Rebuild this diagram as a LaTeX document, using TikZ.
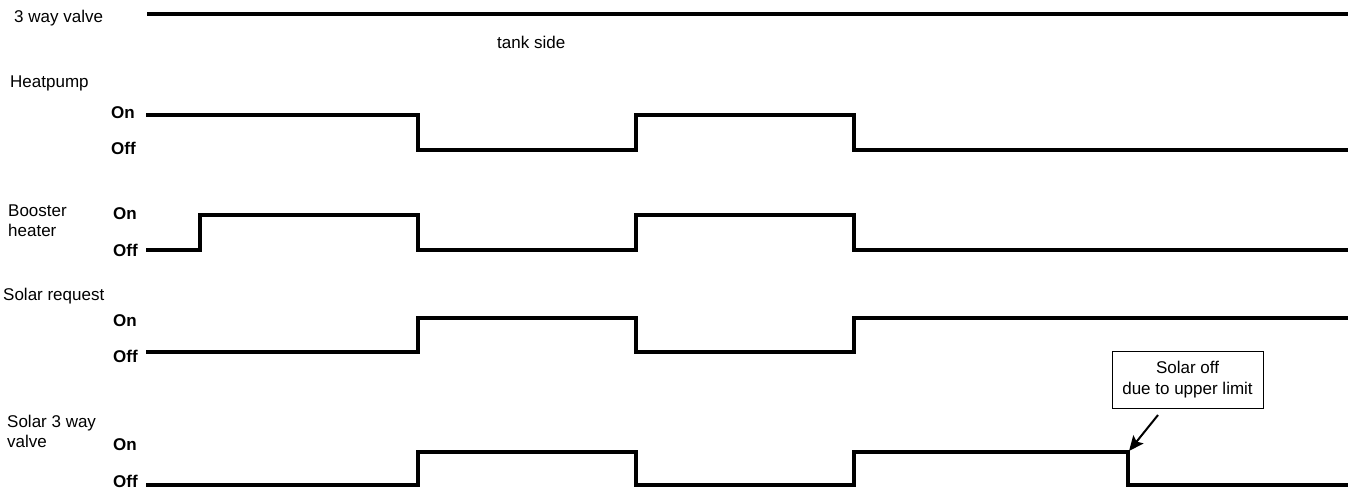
\documentclass[tikz,border=0pt]{standalone}
\usepackage{fontspec}
\setmainfont{Liberation Sans}
\usetikzlibrary{arrows.meta}
\begin{document}
\begin{tikzpicture}[x=1pt,y=-1pt,
  lbl/.style={anchor=west,inner sep=0pt,font=\fontsize{17}{20}\selectfont},
  onoff/.style={anchor=west,inner sep=0pt,font=\fontsize{17}{20}\selectfont\bfseries},
  sig/.style={line width=4pt,line join=miter},
  callout/.style={draw,line width=1pt,align=center,inner sep=3pt,minimum width=151pt,minimum height=57pt,font=\fontsize{17}{21}\selectfont},
  pointer/.style={line width=2pt,-{Stealth[length=15pt,width=13pt,inset=3pt]}}]
\useasboundingbox (0,0) rectangle (1356,490);
% labels
\node[lbl] (l3wv) at (14,18) {3 way valve};
\node[lbl] (ltank) at (497,42) {tank side};
\node[lbl] (lhp) at (10,83) {Heatpump};
\node[lbl,align=left] (lbh) at (8,221) {Booster\\heater};
\node[lbl] (lsr) at (3,296) {Solar request};
\node[lbl,align=left] (ls3) at (7,431) {Solar 3 way\\valve};
% on/off
\node[onoff] (hpon) at (111,113) {On};
\node[onoff] (hpoff) at (111,148) {Off};
\node[onoff] (bhon) at (113,214) {On};
\node[onoff] (bhoff) at (113,250) {Off};
\node[onoff] (sron) at (113,321) {On};
\node[onoff] (sroff) at (113,356) {Off};
\node[onoff] (s3on) at (113,445) {On};
\node[onoff] (s3off) at (113,481) {Off};
% signals
\draw[sig] (147,14) -- (1348,14);
\draw[sig] (146,115) -- (418,115) -- (418,150) -- (636,150) -- (636,115) -- (854,115) -- (854,150) -- (1348,150);
\draw[sig] (146,250) -- (200,250) -- (200,215) -- (418,215) -- (418,250) -- (636,250) -- (636,215) -- (854,215) -- (854,250) -- (1348,250);
\draw[sig] (146,352) -- (418,352) -- (418,318) -- (636,318) -- (636,352) -- (854,352) -- (854,318) -- (1348,318);
\draw[sig] (146,485) -- (418,485) -- (418,452) -- (636,452) -- (636,485) -- (854,485) -- (854,452) -- (1128,452) -- (1128,485) -- (1348,485);
\coordinate (fall) at (1129,451);
% callout
\node[callout] (box) at (1187.5,379.5) {Solar off\\due to upper limit};
\draw[pointer] (1158,415) -- (fall);
\end{tikzpicture}
\end{document}
